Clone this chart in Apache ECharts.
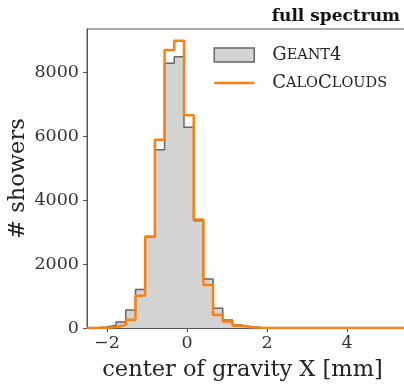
<!DOCTYPE html>
<html>
<head>
<meta charset="utf-8">
<script src="https://cdn.jsdelivr.net/npm/echarts@6/dist/echarts.min.js"></script>
<style>
  html, body { margin: 0; padding: 0; background: #fff; }
  #chart { width: 404px; height: 389px; }
</style>
</head>
<body>
<div id="chart"></div>
<script>
// Histogram binning: 33 equal bins between binLo and binHi
const binLo = -2.5;
const binHi = 5.5;
const binCount = 33;

// Counts per bin (showers)
const geant4 = [10, 30, 90, 190, 560, 1200, 2850, 5570, 8270, 8480, 6270, 3350, 1530, 615, 250, 90, 40, 15, 5, 2,
                0, 0, 0, 0, 0, 0, 0, 0, 0, 0, 0, 0, 0];
const caloClouds = [3, 10, 30, 90, 260, 1010, 2860, 5880, 8690, 8980, 6650, 3390, 1340, 406, 200, 70, 25, 10, 3, 1,
                    0, 0, 0, 0, 0, 0, 0, 0, 0, 0, 0, 0, 0];

const seriesNames = ['Geant4', 'CaloClouds'];
const xTicks = [-2, 0, 2, 4];
const yTicks = [0, 2000, 4000, 6000, 8000];
const yMax = 9344;

const serif = 'DejaVu Serif';

const binWidth = (binHi - binLo) / binCount;
function stepPoints(counts) {
  const pts = [[binLo, 0]];
  for (let k = 0; k < counts.length; k++) pts.push([binLo + k * binWidth, counts[k]]);
  pts.push([binLo + counts.length * binWidth, counts[counts.length - 1]]);
  pts.push([binLo + counts.length * binWidth, 0]);
  return pts;
}

// Small-caps rendering for legend names
function smallCaps(name) {
  let out = '';
  for (const ch of name) {
    if (ch >= 'a' && ch <= 'z') out += '{sm|' + ch.toUpperCase() + '}';
    else out += '{big|' + ch + '}';
  }
  return out;
}

const chart = echarts.init(document.getElementById('chart'), null, { renderer: 'canvas' });
chart.setOption({
  animation: false,
  backgroundColor: '#fff',
  title: {
    text: 'full spectrum',
    right: -1,
    top: 3,
    textStyle: { fontFamily: serif, fontWeight: 'bold', fontSize: 17, color: '#111' }
  },
  grid: {
    left: 87, top: 29, width: 320, height: 299,
    outerBoundsMode: 'none', containLabel: false,
    show: true, borderColor: '#555', borderWidth: 1, backgroundColor: 'transparent'
  },
  legend: {
    orient: 'vertical',
    left: 208, top: 41,
    itemWidth: 40, itemHeight: 14, itemGap: 10,
    formatter: smallCaps,
    textStyle: {
      fontFamily: serif, color: '#222', padding: [0, 0, 0, 13],
      rich: {
        big: { fontFamily: serif, fontSize: 18, color: '#222' },
        sm: { fontFamily: serif, fontSize: 14.5, color: '#222' }
      }
    },
    data: [
      { name: seriesNames[0], icon: 'rect', itemStyle: { color: '#d3d3d3', borderColor: '#666', borderWidth: 1.5 } },
      { name: seriesNames[1], itemStyle: { opacity: 0 }, lineStyle: { color: '#ff7f0e', width: 2.5 } }
    ]
  },
  xAxis: {
    type: 'value', min: binLo, max: binHi,
    name: 'center of gravity X [mm]', nameLocation: 'middle', nameGap: 31, nameMoveOverlap: false,
    nameTextStyle: { fontFamily: serif, fontSize: 22.5, color: '#222', padding: [0, 9, 0, 0] },
    axisLine: { show: true, onZero: false, lineStyle: { color: '#555', width: 1 } },
    axisTick: { show: true, length: 4, customValues: xTicks, lineStyle: { color: '#555' } },
    axisLabel: {
      customValues: xTicks, margin: 6,
      fontFamily: serif, fontSize: 17.5, color: '#333',
      formatter: v => (v < 0 ? '\u2212' + Math.abs(v) : String(v))
    },
    splitLine: { show: false }
  },
  yAxis: {
    type: 'value', min: 0, max: yMax,
    name: '# showers', nameLocation: 'middle', nameGap: 57, nameRotate: 90, nameMoveOverlap: false,
    nameTextStyle: { fontFamily: serif, fontSize: 22.5, color: '#222' },
    axisLine: { show: true, onZero: false, lineStyle: { color: '#555', width: 1 } },
    axisTick: { show: true, length: 4, customValues: yTicks, lineStyle: { color: '#555' } },
    axisLabel: { customValues: yTicks, margin: 8, fontFamily: serif, fontSize: 17.5, color: '#333',
                 formatter: v => String(v) },
    splitLine: { show: false }
  },
  series: [
    {
      name: seriesNames[0], type: 'line', step: 'end', symbol: 'none', z: 2,
      data: stepPoints(geant4),
      lineStyle: { color: '#666', width: 1.5 },
      itemStyle: { color: '#d3d3d3' },
      areaStyle: { color: '#d3d3d3', opacity: 1 }
    },
    {
      name: seriesNames[1], type: 'line', step: 'end', symbol: 'none', z: 3,
      data: stepPoints(caloClouds),
      lineStyle: { color: '#ff7f0e', width: 2.5 },
      itemStyle: { color: '#ff7f0e' }
    }
  ]
});
</script>
</body>
</html>
